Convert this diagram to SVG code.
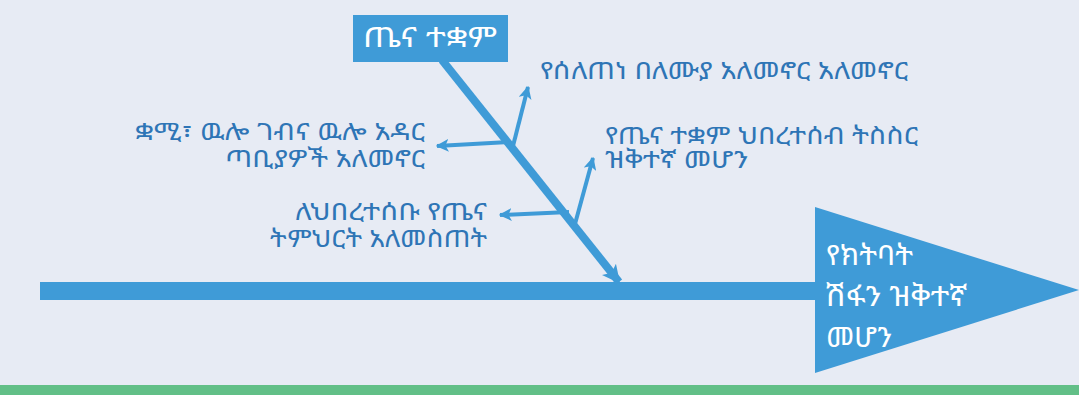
<svg xmlns="http://www.w3.org/2000/svg" width="1079" height="395" viewBox="0 0 1079 395">
<style>
.t{font-family:"Noto Sans Ethiopic","Abyssinica SIL","Noto Serif Ethiopic","Nyala","Noto Sans",sans-serif;}
.lbl{fill:#2E75B6;font-size:24px;}
.wh{fill:#FFFFFF;}
.bone{stroke:#3F9BD7;fill:none;}
</style>
<defs>
<marker id="ah" viewBox="0 0 10 10" refX="9" refY="5" markerWidth="13" markerHeight="13" markerUnits="userSpaceOnUse" orient="auto">
<path d="M0,0 L10,5 L0,10 L2.5,5 Z" fill="#3F9BD7"/>
</marker>
<marker id="ahm" viewBox="0 0 10 10" refX="9" refY="5" markerWidth="18" markerHeight="18" markerUnits="userSpaceOnUse" orient="auto">
<path d="M0,0 L10,5 L0,10 L2.5,5 Z" fill="#3F9BD7"/>
</marker>
</defs>
<rect x="0" y="0" width="1079" height="395" fill="#E7EBF4"/>
<rect x="0" y="385" width="1079" height="10" fill="#62BF87"/>
<g id="connectors">
<rect x="40" y="282" width="780" height="18" fill="#3F9BD7"/>
<line class="bone" x1="442" y1="60" x2="619" y2="282" stroke-width="8" marker-end="url(#ahm)"/>
<line class="bone" x1="513" y1="146" x2="528" y2="87" stroke-width="4" marker-end="url(#ah)"/>
<line class="bone" x1="509" y1="142" x2="437" y2="146" stroke-width="4" marker-end="url(#ah)"/>
<line class="bone" x1="575" y1="224" x2="593" y2="158" stroke-width="4" marker-end="url(#ah)"/>
<line class="bone" x1="569" y1="212" x2="500" y2="215" stroke-width="4" marker-end="url(#ah)"/>
</g>
<g id="head">
<rect x="353" y="15" width="155" height="47" fill="#3F9BD7"/>
<text class="t wh" x="363" y="47" font-size="28" textLength="134" lengthAdjust="spacingAndGlyphs">ጤና ተቋም</text>
</g>
<g id="effect">
<polygon points="815,207 1079,290 815,373" fill="#3F9BD7"/>
<text class="t wh" font-size="28"><tspan x="826" y="265" textLength="87" lengthAdjust="spacingAndGlyphs">የክትባት</tspan><tspan x="826" y="306" textLength="141" lengthAdjust="spacingAndGlyphs">ሽፋን ዝቅተኛ</tspan><tspan x="826" y="347" textLength="66" lengthAdjust="spacingAndGlyphs">መሆን</tspan></text>
</g>
<g id="cause1">
<text class="t lbl" x="540" y="79" textLength="368" lengthAdjust="spacingAndGlyphs">የሰለጠነ በለሙያ አለመኖር አለመኖር</text>
</g>
<g id="cause2">
<text class="t lbl" text-anchor="end"><tspan x="425" y="140" textLength="290" lengthAdjust="spacingAndGlyphs">ቋሚ፣ ዉሎ ገብና ዉሎ አዳር</tspan><tspan x="425" y="167" textLength="200" lengthAdjust="spacingAndGlyphs">ጣቢያዎች አለመኖር</tspan></text>
</g>
<g id="cause3">
<text class="t lbl"><tspan x="605" y="144" textLength="313" lengthAdjust="spacingAndGlyphs">የጤና ተቋም ህበረተሰብ ትስስር</tspan><tspan x="605" y="168" textLength="143" lengthAdjust="spacingAndGlyphs">ዝቅተኛ መሆን</tspan></text>
</g>
<g id="cause4">
<text class="t lbl" text-anchor="end"><tspan x="487" y="220" textLength="192" lengthAdjust="spacingAndGlyphs">ለህበረተሰቡ የጤና</tspan><tspan x="487" y="247" textLength="217" lengthAdjust="spacingAndGlyphs">ትምህርት አለመስጠት</tspan></text>
</g>
</svg>
